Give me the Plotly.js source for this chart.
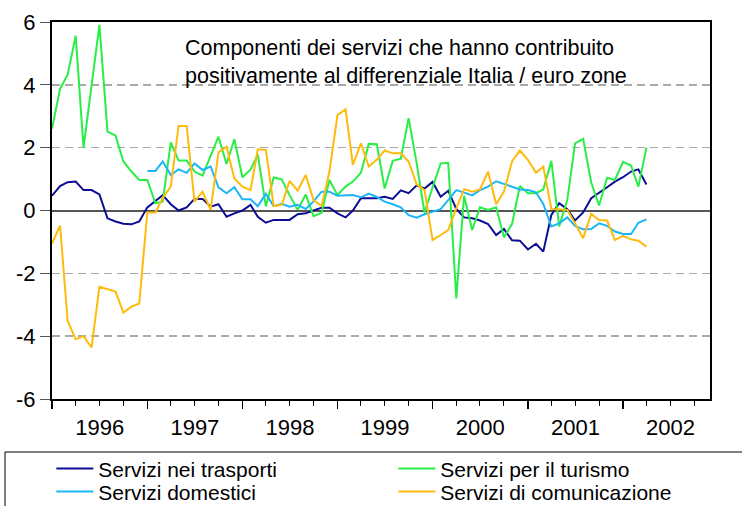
<!DOCTYPE html>
<html>
<head>
<meta charset="utf-8">
<script src="https://cdn.plot.ly/plotly-3.0.1.min.js"></script>
<style>
  html, body { margin: 0; padding: 0; background: #fff; }
  #chart { width: 742px; height: 506px; }
</style>
</head>
<body>
<div id="chart"></div>
<script>
// Monthly observations, 1996M01 .. 2002M04
const startYear = 1996;
const nObs = 76;
const months = [];
for (let k = 0; k < nObs; k++) {
  const y = startYear + Math.floor(k / 12);
  const m = (k % 12) + 1;
  months.push(y + '-' + String(m).padStart(2, '0') + '-01');
}

const seriesNames = [
  'Servizi nei trasporti',
  'Servizi per il turismo',
  'Servizi domestici',
  'Servizi di comunicazione'
];

const trasporti = [
  0.47, 0.78, 0.90, 0.92, 0.65, 0.65, 0.51, -0.25, -0.35, -0.42, -0.44, -0.35,
  0.10, 0.30, 0.49, 0.20, 0.00, 0.10, 0.37, 0.37, 0.12, 0.20, -0.20, -0.09,
  0.00, 0.18, -0.20, -0.39, -0.30, -0.30, -0.30, -0.12, -0.09, 0.00, 0.09, 0.09,
  -0.09, -0.22, 0.00, 0.39, 0.39, 0.39, 0.44, 0.37, 0.64, 0.55, 0.80, 0.70,
  0.91, 0.44, 0.63, 0.05, -0.22, -0.25, -0.32, -0.43, -0.78, -0.59, -0.95, -0.96,
  -1.24, -1.06, -1.31, -0.14, 0.23, 0.04, -0.32, -0.06, 0.39, 0.55, 0.74, 0.92,
  1.06, 1.24, 1.31, 0.83
];

const turismo = [
  2.60, 3.87, 4.32, 5.56, 2.00, 3.95, 5.91, 2.51, 2.38, 1.56, 1.24, 0.97,
  0.97, 0.23, 0.28, 2.17, 1.59, 1.59, 1.24, 1.11, 1.77, 2.35, 1.48, 2.27,
  1.06, 1.30, 1.78, 0.13, 1.05, 0.99, 0.49, 0.02, 0.51, -0.18, -0.07, 0.97,
  0.49, 0.76, 0.92, 1.20, 2.12, 2.11, 0.70, 1.58, 1.65, 2.94, 1.50, -0.07,
  0.74, 1.50, 1.52, -2.80, 0.47, -0.62, 0.10, 0.02, 0.10, -0.85, -0.43, 0.78,
  0.55, 0.55, 0.67, 1.58, -0.51, 0.33, 2.14, 2.28, 0.89, 0.16, 1.04, 0.97,
  1.55, 1.43, 0.76, 2.00
];

const domestici = [
  null, null, null, null, null, null, null, null, null, null, null, null,
  1.26, 1.26, 1.56, 1.13, 1.31, 1.20, 1.50, 1.29, 1.40, 0.74, 0.55, 0.74,
  0.36, 0.36, 0.14, 0.53, 0.14, 0.21, 0.12, 0.18, 0.05, 0.29, 0.60, 0.60,
  0.47, 0.47, 0.49, 0.42, 0.54, 0.43, 0.28, 0.20, 0.10, -0.15, -0.23, -0.12,
  -0.04, 0.04, 0.33, 0.65, 0.57, 0.48, 0.65, 0.76, 0.93, 0.84, 0.76, 0.67,
  0.65, 0.58, 0.21, -0.51, -0.41, -0.22, -0.49, -0.60, -0.59, -0.41, -0.49, -0.67,
  -0.75, -0.75, -0.39, -0.28
];

const comunicazione = [
  -1.05, -0.48, -3.51, -4.10, -4.00, -4.36, -2.43, -2.50, -2.58, -3.25, -3.06, -2.96,
  -0.06, -0.06, 0.40, 0.76, 2.69, 2.69, 0.28, 0.60, 0.02, 1.85, 2.03, 1.02,
  0.76, 0.65, 1.95, 1.93, 0.14, 0.18, 0.94, 0.63, 1.13, 0.33, 0.14, 1.24,
  3.04, 3.22, 1.45, 2.14, 1.40, 1.62, 1.91, 1.82, 1.82, 1.56, 0.83, 0.65,
  -0.94, -0.78, -0.62, 0.07, 0.68, 0.60, 0.67, 1.24, 0.20, 0.60, 1.56, 1.91,
  1.61, 1.20, 1.40, 0.05, 0.04, 0.02, -0.41, -0.88, -0.11, -0.30, -0.32, -0.94,
  -0.81, -0.92, -0.96, -1.15
];

const yTickVals = [-6, -4, -2, 0, 2, 4, 6];
const yTickText = ['-6', '-4', '-2', '0', '2', '4', '6'];

const noteText = 'Componenti dei servizi che hanno contribuito<br>positivamente al differenziale Italia / euro zone';

const colors = ['#0c0c94', '#28ee46', '#1cb6f6', '#ffbb0c'];
const allSeries = [trasporti, turismo, domestici, comunicazione];
const legendIds = ['legend', 'legend', 'legend2', 'legend2'];

const FONT = 'Liberation Sans, Arial, Helvetica, sans-serif';

const traces = allSeries.map((s, i) => ({
  type: 'scatter',
  mode: 'lines',
  x: months,
  y: s,
  name: seriesNames[i],
  legend: legendIds[i],
  line: { color: colors[i], width: 2 },
  connectgaps: false,
  hoverinfo: 'skip'
}));

const legendCommon = {
  orientation: 'h',
  x: -0.001, xanchor: 'left',
  yanchor: 'top',
  entrywidth: 290, entrywidthmode: 'pixels',
  itemwidth: 37,
  bgcolor: 'rgba(0,0,0,0)',
  borderwidth: 0,
  font: { family: FONT, size: 21, color: '#000' },
  traceorder: 'normal'
};

const layout = {
  width: 742,
  height: 506,
  margin: { l: 52, r: 32, t: 22, b: 107, pad: 0, autoexpand: false },
  paper_bgcolor: '#fff',
  plot_bgcolor: '#fff',
  font: { family: FONT, color: '#000' },
  showlegend: true,
  xaxis: {
    type: 'date',
    range: ['1996-01-01', '2002-12-01'],
    tick0: '1996-01-01',
    dtick: 'M12',
    tickformat: '%Y',
    ticklabelmode: 'period',
    ticks: 'outside',
    ticklen: 8,
    tickwidth: 1.5,
    tickcolor: '#000',
    minor: { dtick: 'M3', ticks: 'outside', ticklen: 5, tickwidth: 1, tickcolor: '#000', showgrid: false },
    showline: true,
    linecolor: '#000',
    linewidth: 2,
    mirror: true,
    showgrid: false,
    zeroline: false,
    tickfont: { family: FONT, size: 22, color: '#000' },
    fixedrange: true
  },
  yaxis: {
    range: [-6, 6],
    tickmode: 'array',
    tickvals: yTickVals,
    ticktext: yTickText,
    ticks: 'outside',
    ticklen: 10,
    tickwidth: 1,
    tickcolor: '#555',
    showgrid: true,
    gridcolor: '#aaaaaa',
    gridwidth: 1.5,
    griddash: '8px,5px',
    zeroline: true,
    zerolinecolor: '#555',
    zerolinewidth: 2,
    showline: true,
    linecolor: '#000',
    linewidth: 2,
    mirror: true,
    tickfont: { family: FONT, size: 22, color: '#000' },
    fixedrange: true
  },
  legend: Object.assign({}, legendCommon, { y: -0.131 }),
  legend2: Object.assign({}, legendCommon, { y: -0.192 }),
  shapes: [{
    type: 'rect', xref: 'paper', yref: 'paper',
    x0: -0.0714, x1: 1.2, y0: -0.1406, y1: -0.4,
    line: { color: '#000', width: 1 }, fillcolor: 'rgba(0,0,0,0)', layer: 'below'
  }],
  annotations: [{
    xref: 'paper', yref: 'paper',
    x: 0.199, y: 0.968, xanchor: 'left', yanchor: 'top',
    align: 'left', showarrow: false,
    text: noteText,
    font: { family: FONT, size: 21.5, color: '#000' }
  }]
};

Plotly.newPlot('chart', traces, layout, { displayModeBar: false, staticPlot: true });
</script>
</body>
</html>
